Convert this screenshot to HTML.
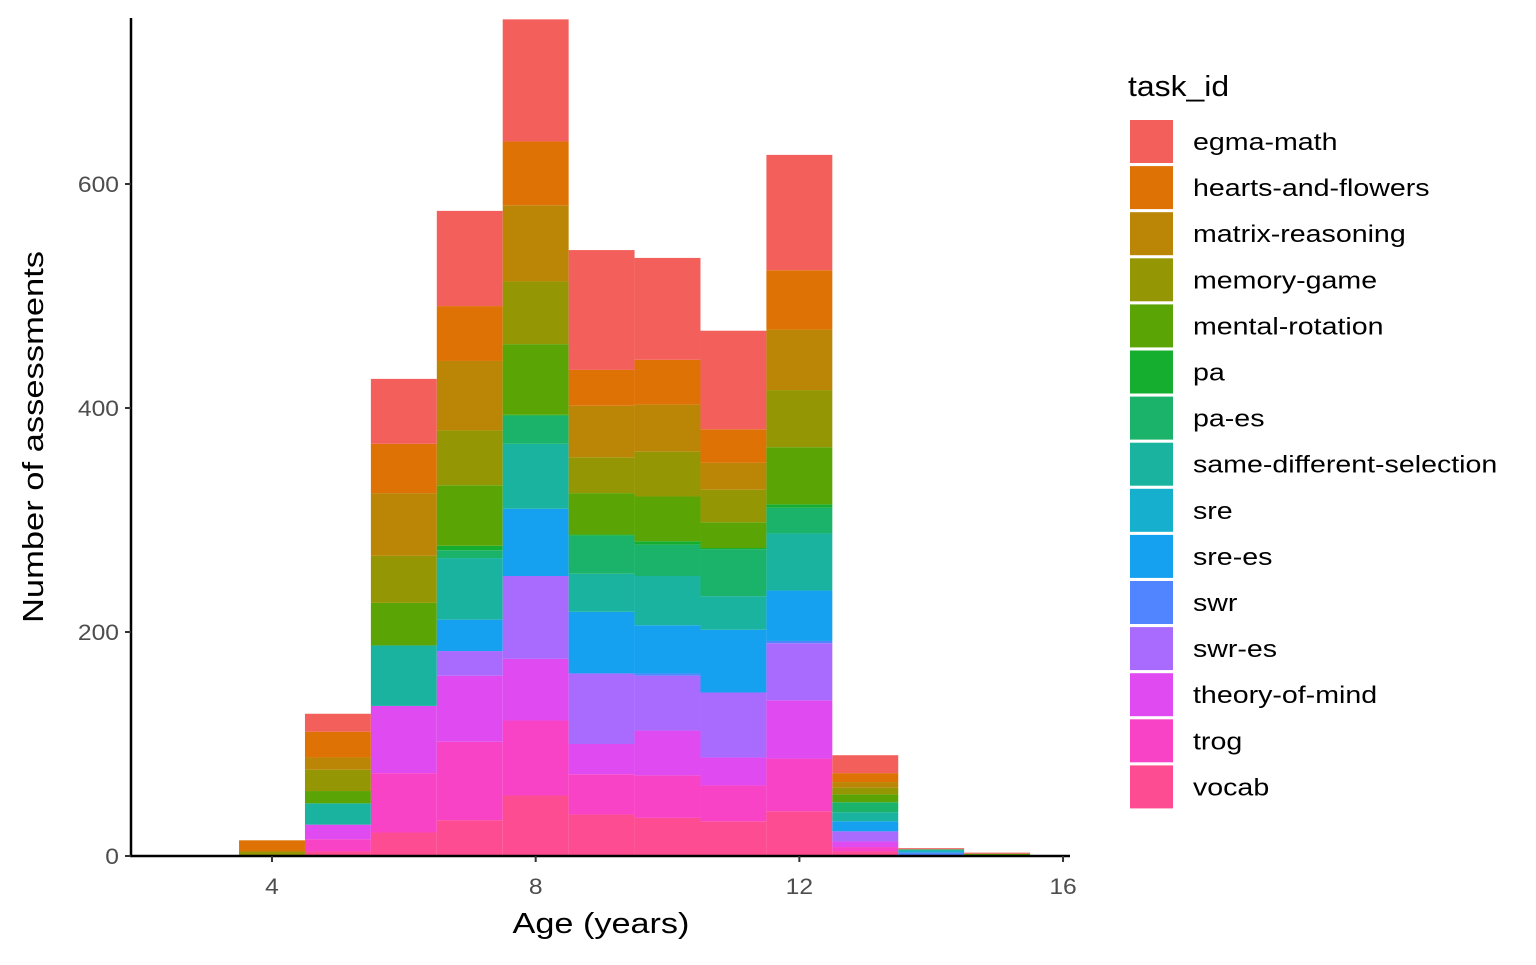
<!DOCTYPE html>
<html><head><meta charset="utf-8"><style>
body{margin:0;background:#fff;}
svg text{font-family:"Liberation Sans",sans-serif;}
</style></head><body>
<svg id="chart" width="1536" height="960" xmlns="http://www.w3.org/2000/svg">
<g id="bars"></g>
<g id="axes"></g>
<g id="legend"></g>
</svg>
<script>
const tasks = ["vocab","trog","theory-of-mind","swr-es","swr","sre-es","sre","same-different-selection","pa-es","pa","mental-rotation","memory-game","matrix-reasoning","hearts-and-flowers","egma-math"];
const colors = ["#FD4C91","#F943C7","#DF4BF0","#A96BFE","#5085FF","#16A0F0","#17AFCE","#19B3A0","#1BB36A","#15AE2F","#5AA505","#949604","#BB8506","#DE7205","#F3605C"];
const ages = [4,5,6,7,8,9,10,11,12,13,14,15];
const vocab   = [0,4,21,32,54,37,34,31,40,4,0,0];
const trog    = [0,11,53,70,67,36,38,32,47,4,0,0];
const tom     = [0,13,60,59,55,27,40,25,52,5,0,0];
const swrEs   = [0,0,0,22,74,63,49,58,51,9,0,0];
const swr     = [0,0,0,0,0,0,2,0,2,0,3,0];
const sreEs   = [0,0,0,28,60,55,43,56,45,9,0,0];
const sre     = [0,0,0,0,0,0,0,0,0,0,2,0];
const sds     = [0,19,54,55,58,34,44,30,51,8,0,0];
const paEs    = [0,0,0,7,25,34,28,42,23,9,1,0];
const pa      = [0,0,0,4,1,1,3,1,3,0,0,0];
const mental  = [0,11,38,54,63,37,40,23,51,7,0,2];
const memory  = [4,19,42,49,56,32,40,29,51,6,0,0];
const matrix  = [0,11,56,62,68,46,42,24,54,5,0,0];
const hearts  = [10,23,44,49,57,32,40,30,53,8,0,0];
const egma    = [0,16,58,85,109,107,91,88,103,16,1,1];
const series = [vocab,trog,tom,swrEs,swr,sreEs,sre,sds,paEs,pa,mental,memory,matrix,hearts,egma];
const yTicks = [0,200,400,600];
const xTicks = [4,8,12,16];
const legendOrder = ["egma-math","hearts-and-flowers","matrix-reasoning","memory-game","mental-rotation","pa","pa-es","same-different-selection","sre","sre-es","swr","swr-es","theory-of-mind","trog","vocab"];

const NS="http://www.w3.org/2000/svg";
const X0=131, X1=1070, Y0=856;
const xs = a => 272 + (a-4)*65.92;
const ys = v => Y0 - v*1.12;
function mk(tag, attrs, parent){const e=document.createElementNS(NS,tag);for(const k in attrs)e.setAttribute(k,attrs[k]);parent.appendChild(e);return e;}
function widen(t,f){const w=t.getComputedTextLength();t.setAttribute('textLength',(w*f).toFixed(1));t.setAttribute('lengthAdjust','spacingAndGlyphs');}
const gb=document.getElementById('bars');
ages.forEach((a,i)=>{
  let cum=0;
  series.forEach((s,j)=>{
    const v=s[i]; if(!v) return;
    const r=mk('rect',{x:xs(a-0.5),y:ys(cum+v),width:xs(a+0.5)-xs(a-0.5),height:ys(cum)-ys(cum+v),fill:colors[j]},gb);
    
    
    cum+=v;
  });
});
const ga=document.getElementById('axes');
const yl=mk('line',{x1:X0,y1:18,x2:X0,y2:Y0+1,stroke:'#000','stroke-width':2.5},ga);


const xl=mk('line',{x1:X0-1,y1:Y0,x2:X1,y2:Y0,stroke:'#000','stroke-width':2.5},ga);


yTicks.forEach(t=>{
  mk('line',{x1:X0-6,y1:ys(t),x2:X0,y2:ys(t),stroke:'#333','stroke-width':2},ga);
  const tx=mk('text',{x:X0-12,y:ys(t)+8,'text-anchor':'end','font-size':22,fill:'#4d4d4d'},ga);
  tx.textContent=t;
  
  
  widen(tx,1.12);
});
xTicks.forEach(t=>{
  mk('line',{x1:xs(t),y1:Y0,x2:xs(t),y2:Y0+6,stroke:'#333','stroke-width':2},ga);
  const tx=mk('text',{x:xs(t),y:Y0+38,'text-anchor':'middle','font-size':22,fill:'#4d4d4d'},ga);
  tx.textContent=t;
  
  
  widen(tx,1.12);
});
const xt=mk('text',{x:601,y:933,'text-anchor':'middle','font-size':29,fill:'#000'},ga);
xt.textContent='Age (years)';


widen(xt,1.18);
const yt=mk('text',{x:0,y:0,'text-anchor':'middle','font-size':29,fill:'#000',transform:'translate(43,437) rotate(-90)'},ga);
yt.textContent='Number of assessments';


widen(yt,1.19);
const gl=document.getElementById('legend');
const lt=mk('text',{x:1128,y:96,'font-size':29,fill:'#000'},gl);
lt.textContent='task_id';


widen(lt,1.1);
legendOrder.forEach((name,k)=>{
  const j=tasks.indexOf(name);
  const y=120+k*46.1;
  const g=mk('g',{},gl);
  
  
  mk('rect',{x:1130,y:y,width:43,height:43,fill:colors[j]},g);
  const t=mk('text',{x:1193,y:y+30,'font-size':24,fill:'#000'},g);
  t.textContent=name;
  widen(t,1.19);
});
</script>
</body></html>
